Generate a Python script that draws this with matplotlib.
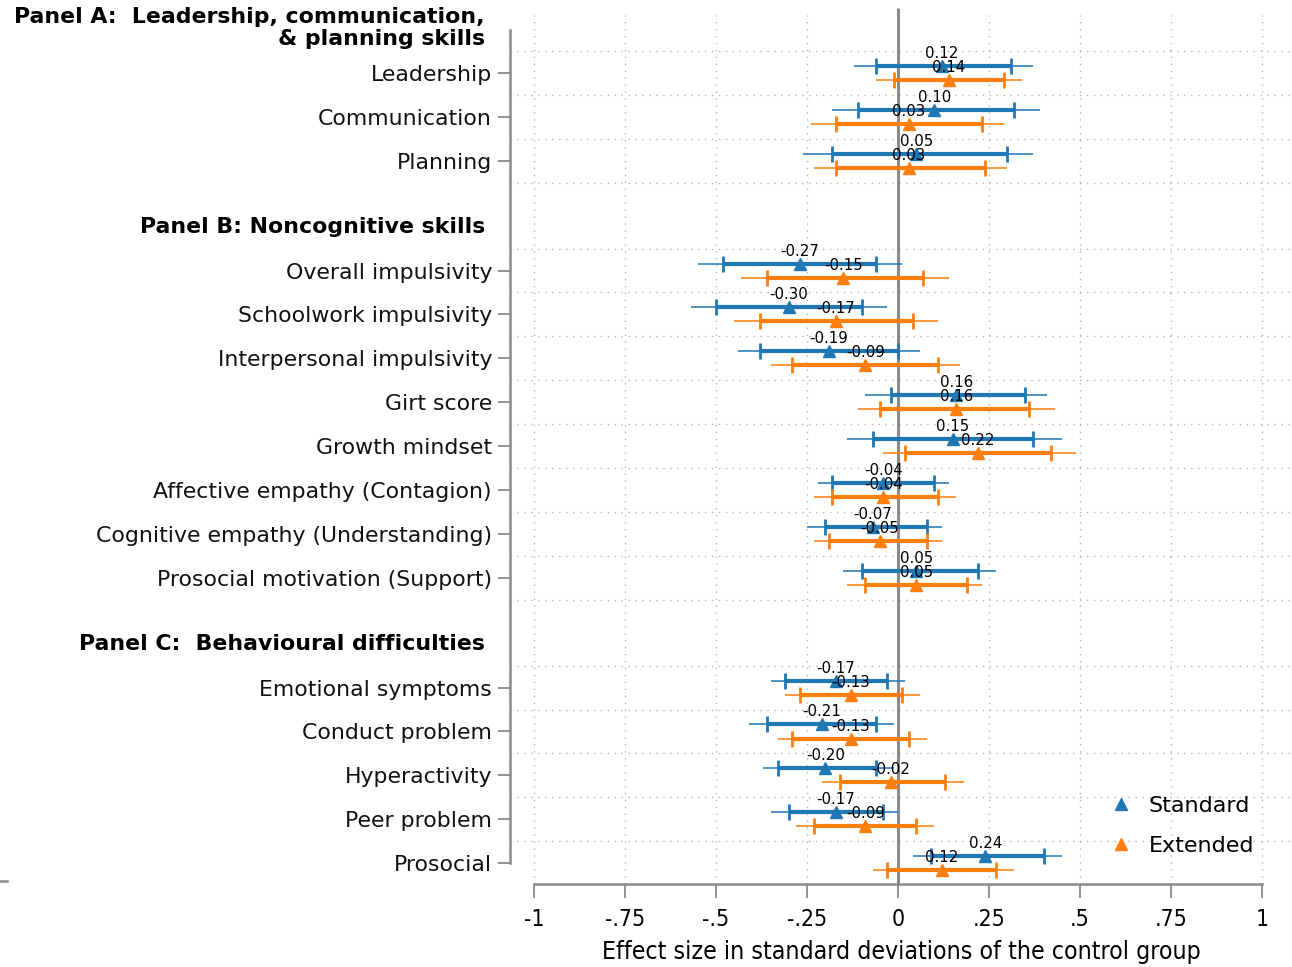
import matplotlib
matplotlib.use("Agg")
import matplotlib.pyplot as plt
import matplotlib.transforms as mtransforms
from matplotlib.lines import Line2D

# ---- data -------------------------------------------------------------
outcomes = [
    "Leadership", "Communication", "Planning",
    "Overall impulsivity", "Schoolwork impulsivity", "Interpersonal impulsivity",
    "Girt score", "Growth mindset", "Affective empathy (Contagion)",
    "Cognitive empathy (Understanding)", "Prosocial motivation (Support)",
    "Emotional symptoms", "Conduct problem", "Hyperactivity", "Peer problem",
    "Prosocial",
]
rows = [0, 1, 2, 4.5, 5.5, 6.5, 7.5, 8.5, 9.5, 10.5, 11.5, 14, 15, 16, 17, 18]

panel_titles = ["Panel B: Noncognitive skills", "Panel C:  Behavioural difficulties"]
panel_rows = [3.5, 13.0]
panel_a_lines = ["Panel A:  Leadership, communication,", "& planning skills"]

std_est = [0.12, 0.10, 0.05, -0.27, -0.30, -0.19, 0.16, 0.15, -0.04, -0.07, 0.05,
           -0.17, -0.21, -0.20, -0.17, 0.24]
std_inner_lo = [-0.06, -0.11, -0.18, -0.48, -0.50, -0.38, -0.02, -0.07, -0.18, -0.20, -0.10,
                -0.31, -0.36, -0.33, -0.30, 0.09]
std_inner_hi = [0.31, 0.32, 0.30, -0.06, -0.10, 0.00, 0.35, 0.37, 0.10, 0.08, 0.22,
                -0.03, -0.06, -0.06, -0.04, 0.40]
std_outer_lo = [-0.12, -0.18, -0.26, -0.55, -0.57, -0.44, -0.09, -0.14, -0.22, -0.25, -0.15,
                -0.35, -0.41, -0.37, -0.35, 0.04]
std_outer_hi = [0.37, 0.39, 0.37, 0.01, -0.03, 0.06, 0.41, 0.45, 0.14, 0.12, 0.27,
                0.02, -0.01, -0.01, 0.00, 0.45]

ext_est = [0.14, 0.03, 0.03, -0.15, -0.17, -0.09, 0.16, 0.22, -0.04, -0.05, 0.05,
           -0.13, -0.13, -0.02, -0.09, 0.12]
ext_inner_lo = [-0.01, -0.17, -0.17, -0.36, -0.38, -0.29, -0.05, 0.02, -0.18, -0.19, -0.09,
                -0.27, -0.29, -0.16, -0.23, -0.03]
ext_inner_hi = [0.29, 0.23, 0.24, 0.07, 0.04, 0.11, 0.36, 0.42, 0.11, 0.08, 0.19,
                0.01, 0.03, 0.13, 0.05, 0.27]
ext_outer_lo = [-0.06, -0.24, -0.23, -0.43, -0.45, -0.35, -0.11, -0.04, -0.23, -0.23, -0.14,
                -0.31, -0.33, -0.21, -0.28, -0.07]
ext_outer_hi = [0.34, 0.29, 0.30, 0.14, 0.11, 0.17, 0.43, 0.49, 0.16, 0.12, 0.23,
                0.06, 0.08, 0.18, 0.10, 0.32]

series_names = ["Standard", "Extended"]
series_colors = ["#1f77b4", "#ff7f0e"]

xticks = [-1, -0.75, -0.5, -0.25, 0, 0.25, 0.5, 0.75, 1]
xticklabels = ["-1", "-.75", "-.5", "-.25", "0", ".25", ".5", ".75", "1"]
grid_rows = [-0.5, 0.5, 1.5, 2.5, 4.0, 5.0, 6.0, 7.0, 8.0, 9.0, 10.0, 11.0, 12.0,
             13.5, 14.5, 15.5, 16.5, 17.5]

# ---- figure -----------------------------------------------------------
W, H = 1292, 967
fig = plt.figure(figsize=(W / 100, H / 100), dpi=100)
ax = fig.add_axes([510 / W, (H - 884) / H, (W - 510) / W, (884 - 15) / H])

ax.set_xlim((510 - 898) / 364, (W - 898) / 364)
ax.set_ylim((884 - 73) / 43.9, (15 - 73) / 43.9)

grid_kw = dict(color="#b5b5b5", lw=1.0, linestyle=(0, (1, 4)), zorder=0.5)
ax.hlines(grid_rows, *ax.get_xlim(), **grid_kw)
for xt in xticks:
    if xt != 0:
        ax.axvline(xt, **grid_kw)

# reference line at zero
ax.plot([0, 0], [(8 - 73) / 43.9, ax.get_ylim()[0]], color="#8a8a8a", lw=2.2,
        zorder=1.5, clip_on=False, solid_capstyle="butt")

offsets = [-0.16, 0.16]
groups = [
    (std_est, std_inner_lo, std_inner_hi, std_outer_lo, std_outer_hi),
    (ext_est, ext_inner_lo, ext_inner_hi, ext_outer_lo, ext_outer_hi),
]
for (est, ilo, ihi, olo, ohi), off, col in zip(groups, offsets, series_colors):
    ys = [r + off for r in rows]
    ax.hlines(ys, olo, ohi, color=col, lw=1.4, alpha=0.8, zorder=2)
    ax.hlines(ys, ilo, ihi, color=col, lw=3.0, zorder=3)
    ax.plot(ilo, ys, ls="none", marker="|", ms=11.5, mew=2.0, color=col, zorder=3)
    ax.plot(ihi, ys, ls="none", marker="|", ms=11.5, mew=2.0, color=col, zorder=3)
    ax.plot(est, ys, ls="none", marker="^", ms=9, color=col, zorder=4)
    for x, y in zip(est, ys):
        ax.annotate(f"{x:.2f}", (x, y), xytext=(0, 9), textcoords="offset points",
                    ha="center", va="center", fontsize=10.8, color="black", zorder=5)

# axes styling
for s in ("top", "right"):
    ax.spines[s].set_visible(False)
for s in ("left", "bottom"):
    ax.spines[s].set_color("#8a8a8a")
    ax.spines[s].set_linewidth(1.8)
ax.spines["left"].set_bounds((30 - 73) / 43.9, 18)
ax.spines["bottom"].set_bounds(-1, 1)

ax.set_yticks(rows)
ax.set_yticklabels(outcomes, fontsize=15.8, color="#111111")
ax.tick_params(axis="y", length=8.6, width=1.3, color="#8a8a8a", pad=4.3)

ax.set_xticks(xticks)
ax.set_xticklabels(xticklabels, fontsize=16.5, fontstretch="condensed")
ax.tick_params(axis="x", length=10, width=1.3, color="#8a8a8a", pad=7)
ax.set_xlabel("Effect size in standard deviations of the control group",
              fontsize=17.8, fontstretch="condensed", labelpad=7)

# panel headings in the label column
tr = mtransforms.blended_transform_factory(fig.transFigure, ax.transData)
hx = 485 / W
for txt, yp in zip(panel_a_lines, [17, 39]):
    ax.text(hx, (yp - 73) / 43.9, txt, transform=tr, ha="right", va="center",
            fontsize=15.8, fontweight="bold", clip_on=False)
for txt, r in zip(panel_titles, panel_rows):
    ax.text(hx, r, txt, transform=tr, ha="right", va="center",
            fontsize=15.8, fontweight="bold", clip_on=False)

handles = [Line2D([], [], ls="none", marker="^", ms=9, color=c) for c in series_colors]
ax.legend(handles, series_names, loc="lower right", frameon=False, fontsize=16,
          bbox_to_anchor=(1265 / W, (H - 867) / H), bbox_transform=fig.transFigure,
          handlelength=1.0, handletextpad=0.75, labelspacing=0.9, borderpad=0)

# short rule at the lower left margin
fig.add_artist(Line2D([0, 7 / W], [(H - 881) / H] * 2, color="#8a8a8a", lw=1.8,
                      transform=fig.transFigure))

fig.savefig("out.png", dpi=100)
